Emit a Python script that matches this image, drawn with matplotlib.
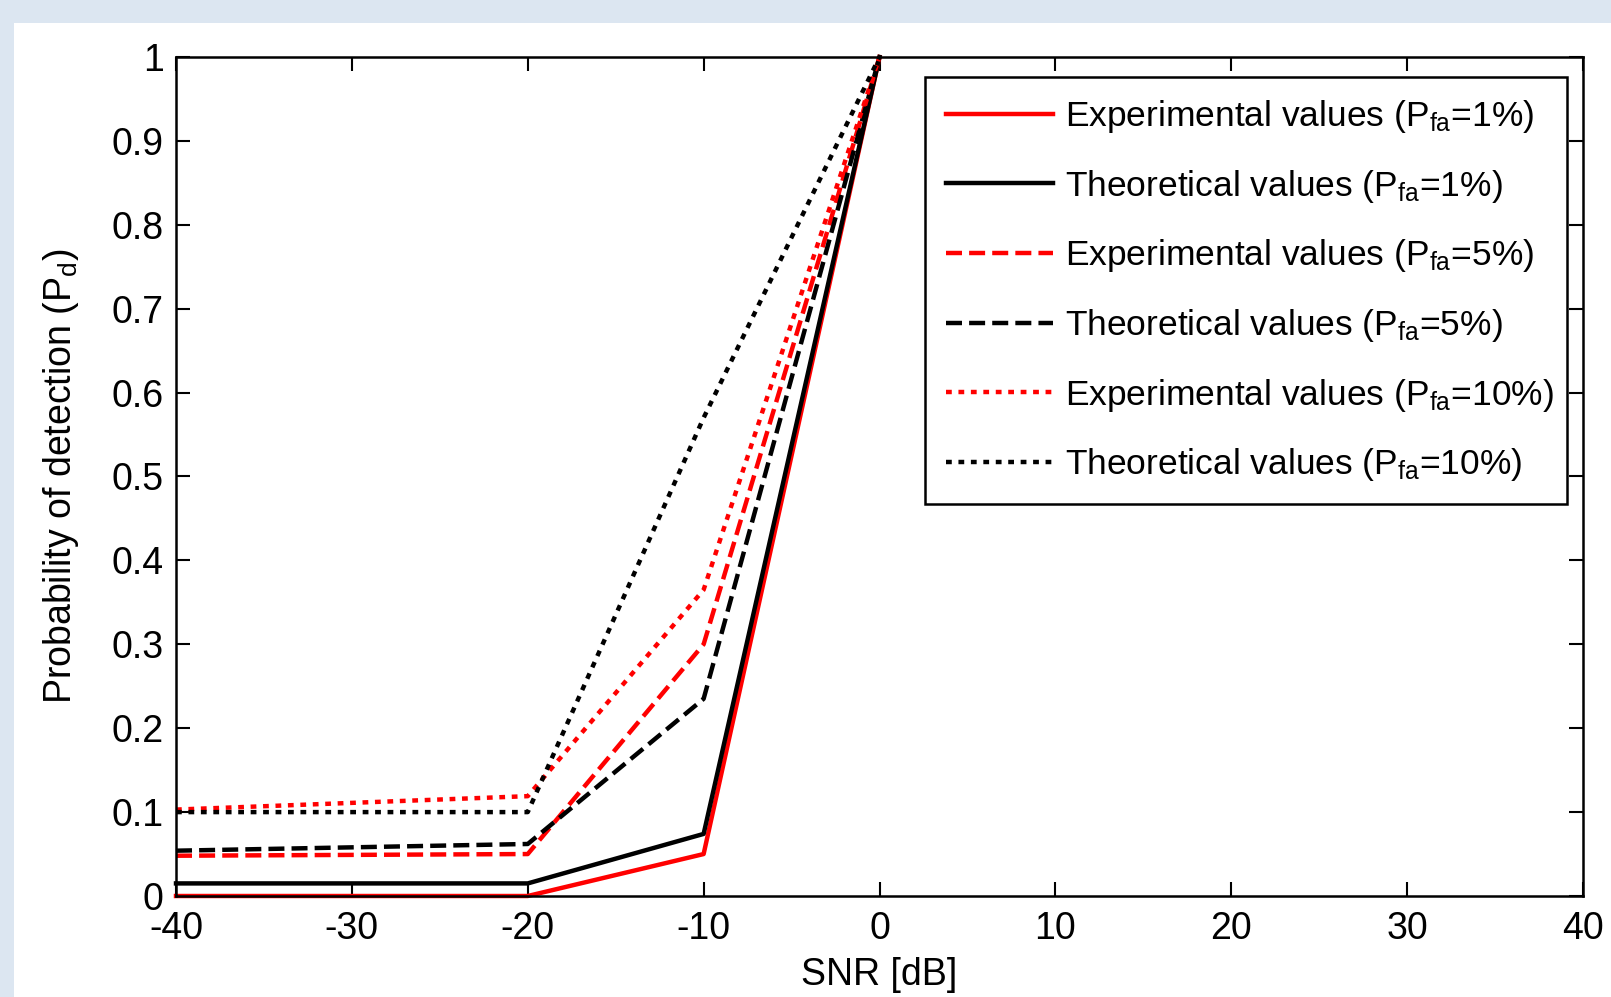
import matplotlib
matplotlib.use("Agg")
import matplotlib.pyplot as plt
from matplotlib import font_manager
from matplotlib.patches import Rectangle

# ---- data ----
snr = [-40, -20, -10, 0]
exp_1 = [0.0, 0.0, 0.05, 1.0]
theo_1 = [0.015, 0.015, 0.074, 1.0]
exp_5 = [0.048, 0.05, 0.30, 1.0]
theo_5 = [0.054, 0.062, 0.235, 1.0]
exp_10 = [0.103, 0.119, 0.365, 1.0]
theo_10 = [0.10, 0.10, 0.57, 1.0]
labels = [
    r"Experimental values (P$_{\rm fa}$=1%)",
    r"Theoretical values (P$_{\rm fa}$=1%)",
    r"Experimental values (P$_{\rm fa}$=5%)",
    r"Theoretical values (P$_{\rm fa}$=5%)",
    r"Experimental values (P$_{\rm fa}$=10%)",
    r"Theoretical values (P$_{\rm fa}$=10%)",
]
xticks = [-40, -30, -20, -10, 0, 10, 20, 30, 40]
yticks = [0, 0.1, 0.2, 0.3, 0.4, 0.5, 0.6, 0.7, 0.8, 0.9, 1]
ytick_labels = ["0", "0.1", "0.2", "0.3", "0.4", "0.5", "0.6", "0.7", "0.8", "0.9", "1"]

names = {f.name for f in font_manager.fontManager.ttflist}
fam = "Liberation Sans Narrow" if "Liberation Sans Narrow" in names else "Liberation Sans"
plt.rcParams["font.family"] = [fam, "DejaVu Sans"]
plt.rcParams["mathtext.fontset"] = "custom"
plt.rcParams["mathtext.rm"] = fam
plt.rcParams["mathtext.it"] = fam
plt.rcParams["mathtext.bf"] = fam

W, H = 1611, 997
fig = plt.figure(figsize=(W / 100, H / 100), dpi=100, facecolor="#dce6f1")
fig.add_artist(Rectangle((14 / W, 0), 1, (H - 23) / H, transform=fig.transFigure,
                         facecolor="white", edgecolor="none", zorder=0))

ax = fig.add_axes([176 / W, (H - 896) / H, (1583 - 176) / W, (896 - 57) / H])

lw = 3.2
dash = (0, (3.6, 1.6))
dot = (0, (1.3, 1.5))
series = [
    (exp_1, "red", "-"),
    (theo_1, "black", "-"),
    (exp_5, "red", dash),
    (theo_5, "black", dash),
    (exp_10, "red", dot),
    (theo_10, "black", dot),
]
for (vals, col, ls), lab in zip(series, labels):
    ax.plot(snr, vals, color=col, linestyle=ls, linewidth=lw, label=lab, clip_on=False)

ax.set_xlim(-40, 40)
ax.set_ylim(0, 1)
ax.set_xticks(xticks)
ax.set_xticklabels([str(v) for v in xticks])
ax.set_yticks(yticks)
ax.set_yticklabels(ytick_labels)
fs = 27
ax.tick_params(direction="in", length=10, width=1.5, top=True, right=True,
               labelsize=fs, colors="black")
ax.tick_params(axis="x", pad=11)
ax.tick_params(axis="y", pad=9)
for s in ax.spines.values():
    s.set_linewidth(1.8)
    s.set_zorder(3)

ax.set_xlabel("SNR [dB]", fontsize=fs, labelpad=7)
ax.set_ylabel(r"Probability of detection (P$_{\rm d}$)", fontsize=fs, labelpad=22)

leg = ax.legend(loc="upper left", bbox_to_anchor=(925 / W, 0.0, (1567 - 925) / W, (H - 77) / H),
                bbox_transform=fig.transFigure, mode="expand", borderaxespad=0,
                fontsize=25.5, handlelength=3.0, handletextpad=0.35, labelspacing=0.92,
                borderpad=0.6, fancybox=False, framealpha=1, edgecolor="black")
leg.get_frame().set_linewidth(1.8)

fig.savefig("out.png", dpi=100, facecolor=fig.get_facecolor())
